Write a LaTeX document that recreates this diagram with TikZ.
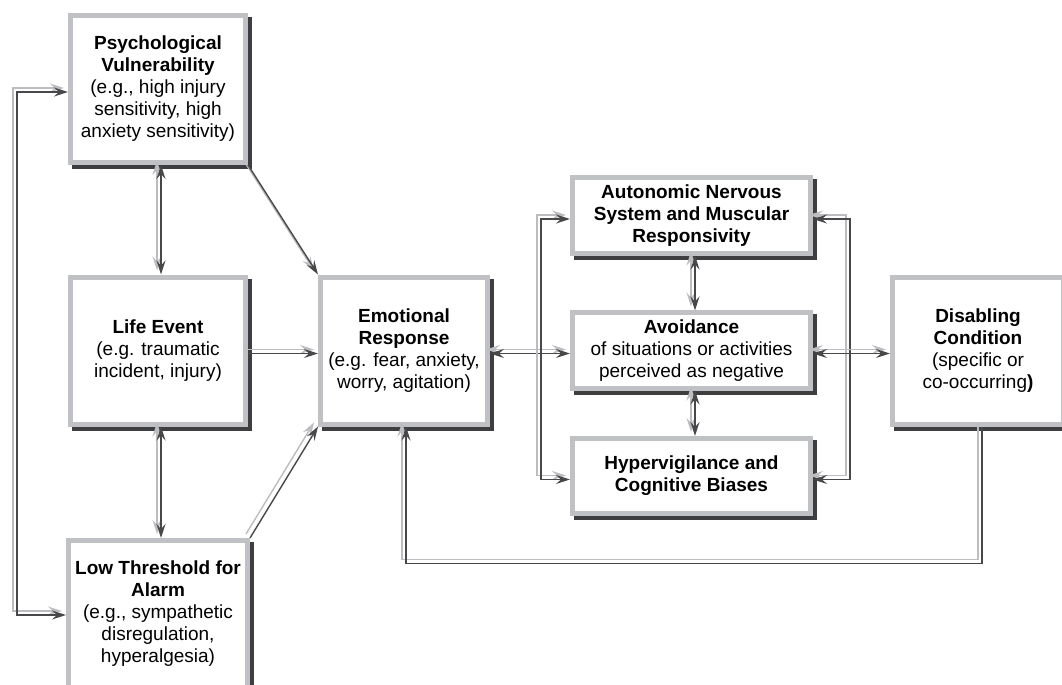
\documentclass[tikz,border=0pt]{standalone}
\usepackage{fontspec}
\setmainfont{Liberation Sans}
\usepackage{tikz}
\usetikzlibrary{arrows.meta, shapes, positioning}
\definecolor{boxgray}{RGB}{192,193,197}
\definecolor{shadowdark}{RGB}{62,62,64}
\definecolor{linkdark}{RGB}{72,72,74}
\definecolor{linkgray}{RGB}{188,189,192}
\tikzstyle{box}=[draw=boxgray, line width=2.5pt, fill=white, align=center, text=black, font=\fontsize{9.5}{11}\selectfont, preaction={draw=shadowdark, fill=shadowdark, line width=2.5pt, transform canvas={shift={(2pt,-2pt)}}}]
\tikzstyle{side}=[box, minimum width=87.5pt, minimum height=73.5pt]
\tikzstyle{mid}=[box, minimum width=119pt, minimum height=37.5pt]
\tikzstyle{link}=[draw=linkdark, line width=0.7pt, -{Stealth[length=7pt,width=4.5pt,inset=2.5pt]}, preaction={draw=linkgray, line width=0.7pt, -{Stealth[length=7pt,width=4.5pt,inset=2.5pt]}, transform canvas={shift={(-2pt,2pt)}}}]
\tikzstyle{blink}=[draw=linkdark, line width=0.7pt, {Stealth[length=7pt,width=4.5pt,inset=2.5pt]}-{Stealth[length=7pt,width=4.5pt,inset=2.5pt]}, preaction={draw=linkgray, line width=0.7pt, {Stealth[length=7pt,width=4.5pt,inset=2.5pt]}-{Stealth[length=7pt,width=4.5pt,inset=2.5pt]}, transform canvas={shift={(-2pt,2pt)}}}]

\begin{document}
\begin{tikzpicture}[x=0.5pt, y=-0.5pt]
 \useasboundingbox[fill=white] (0,0) rectangle (1062,685);
 \clip (0,0) rectangle (1062,685);

 \node[side] (PV) at (158,89) {\textbf{Psychological}\\\textbf{Vulnerability}\\(e.g., high injury\\sensitivity, high\\anxiety sensitivity)};
 \node[side] (LE) at (158,350.5) {\textbf{Life Event}\\(e.g. traumatic\\incident, injury)};
 \node[side] (LT) at (158,614) {\textbf{Low Threshold for}\\\textbf{Alarm}\\(e.g., sympathetic\\disregulation,\\hyperalgesia)};
 \node[side, minimum width=83.5pt] (ER) at (404,350.5) {\textbf{Emotional}\\\textbf{Response}\\(e.g. fear, anxiety,\\worry, agitation)};
 \node[mid] (ANS) at (691.5,215.5) {\textbf{Autonomic Nervous}\\\textbf{System and Muscular}\\\textbf{Responsivity}};
 \node[mid] (AV) at (691.5,350.5) {\textbf{Avoidance}\\of situations or activities\\perceived as negative};
 \node[mid] (HV) at (691.5,476) {\textbf{Hypervigilance and}\\\textbf{Cognitive Biases}};
 \node[side, minimum width=85.5pt] (DC) at (978,350.5) {\textbf{Disabling}\\\textbf{Condition}\\(specific or\\co-occurring\textbf{)}};

 \draw[blink] ([yshift=-1.5pt]PV.west) -| (17,400) |- ([yshift=-0.5pt]LT.west);
 \draw[blink] ([xshift=1.5pt]PV.south) -- ([xshift=1.5pt]LE.north);
 \draw[blink] ([xshift=1.5pt]LE.south) -- ([xshift=1.5pt]LT.north);
 \draw[link] (PV.south east) -- (ER.north west);
 \draw[link] ([yshift=-1.5pt]LE.east) -- ([yshift=-1.5pt]ER.west);
 \draw[link] (LT.north east) -- (ER.south west);
 \draw[blink] ([yshift=-1.5pt]ER.east) -- ([yshift=-1.5pt]AV.west);
 \draw[blink] ([yshift=-1.75pt]ANS.west) -| (541,350) |- ([yshift=-1.75pt]HV.west);
 \draw[blink] ([yshift=-1.75pt]ANS.east) -| (850,350) |- ([yshift=-1.75pt]HV.east);
 \draw[blink] ([xshift=1.75pt]ANS.south) -- ([xshift=1.75pt]AV.north);
 \draw[blink] ([xshift=1.75pt]AV.south) -- ([xshift=1.75pt]HV.north);
 \draw[blink] ([yshift=-1.5pt]AV.east) -- ([yshift=-1.5pt]DC.west);
 \draw[link] ([xshift=2pt]DC.south) -- ++(0,137) -| ([xshift=1pt]ER.south);

\end{tikzpicture}
\end{document}
